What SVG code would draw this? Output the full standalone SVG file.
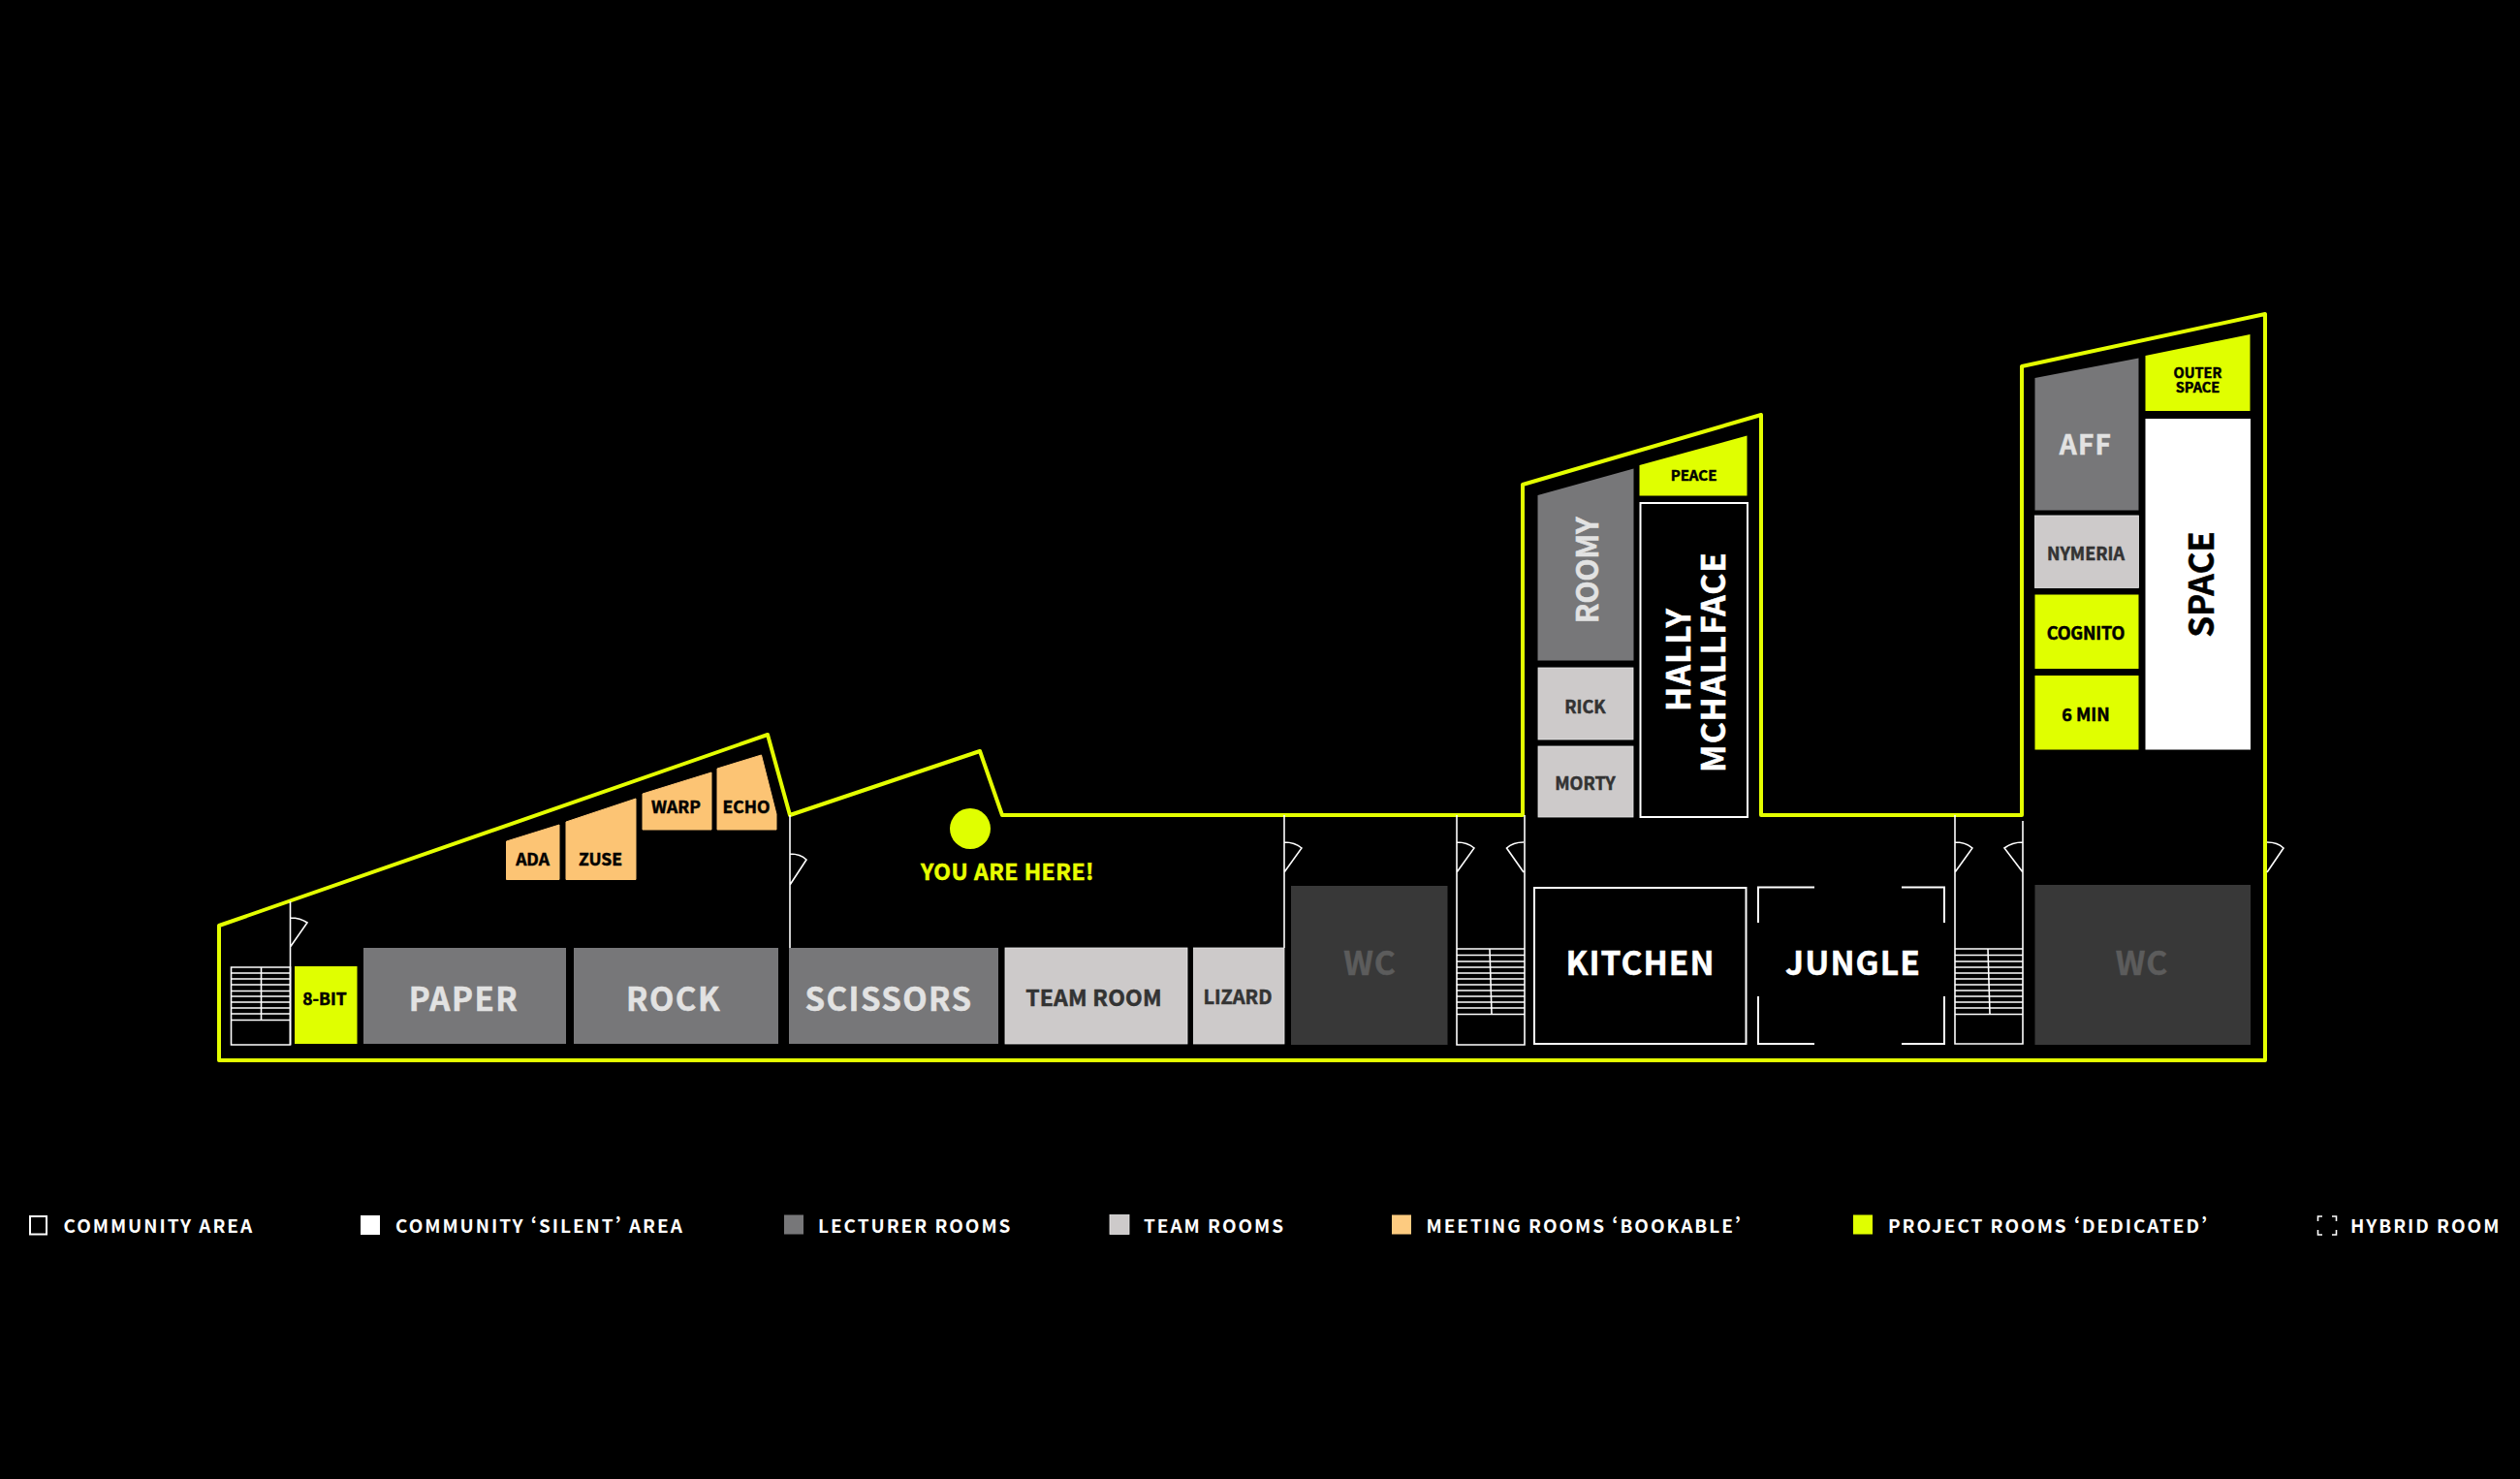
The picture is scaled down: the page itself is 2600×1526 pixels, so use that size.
<svg xmlns="http://www.w3.org/2000/svg" width="2600" height="1526" viewBox="0 0 2600 1526">
<style>
text{font-family:"Noto Sans CJK SC","Noto Sans",sans-serif;font-weight:700;text-anchor:middle;font-feature-settings:"pwid";stroke-width:.5}
.lec{fill:#777779}.team{fill:#cdcaca;stroke:#e6e6e6;stroke-width:.8}.meet{fill:#fcc474;stroke:#fcc474;stroke-width:1;stroke-linejoin:round}.proj{fill:#e0ff00}.wc{fill:#383838}
.com{fill:#000;stroke:#fff;stroke-width:2}.sil{fill:#fff}
.ln{fill:none;stroke:#fff;stroke-width:1.6}.out{fill:none;stroke:#e4ff00;stroke-width:4;stroke-linejoin:round}
.tl{fill:#e2e2e2;stroke:#e2e2e2}.td{fill:#333;stroke:#333}.tb{fill:#000;stroke:#000}.tw{fill:#fff;stroke:#fff}.tg{fill:#5c5c5c;stroke:#5c5c5c}
.lg{fill:#fff;font-size:19px;letter-spacing:1.95px;text-anchor:start;stroke-width:0}
</style>
<rect width="2600" height="1526" fill="#000"/>
<g id="outline"><path class="out" d="M226 955L792 758L815 841L1011 775L1034 841H1571V500L1817 428V841H2086V378L2337 324V1094H226Z"/></g>
<g id="connectors">
<path class="ln" d="M299.500 930V1078M299.500 947Q310 947 317 952L299.500 977"/>
<path class="ln" d="M815 841V978M815 881Q826 881 832 887L815 913"/>
<path class="ln" d="M1325 841V978M1325 869Q1336 869 1343 875L1325 900"/>
<path class="ln" d="M1503 841V1078H1573V841M1503 869Q1514 869 1521 875L1503 900M1572 869Q1561 869 1554.500 875L1572 900"/>
<path class="ln" d="M2017 841V1077H2087V847M2017 869Q2028 869 2035 875L2017 900M2087 869Q2076 869 2068 875L2087 900"/>
<path class="ln" d="M2339 869Q2350 869 2356 875L2339 900"/>
</g>
<g id="stairs-1"><path class="ln" d="M238.500 998H299.500V1078H238.500ZM269.500 998V1052M238.500 1004H299.500M238.500 1010H299.500M238.500 1016H299.500M238.500 1022.500H299.500M238.500 1028H299.500M238.500 1034H299.500M238.500 1040H299.500M238.500 1046H299.500M238.500 1052.500H299.500"/></g>
<g id="stairs-2"><path class="ln" d="M1503 979H1573M1537 979L1539 1046M1503 985.500H1573M1503 992H1573M1503 998H1573M1503 1004H1573M1503 1010H1573M1503 1016H1573M1503 1022H1573M1503 1028H1573M1503 1034H1573M1503 1040H1573M1503 1046.500H1573"/></g>
<g id="stairs-3"><path class="ln" d="M2017 979H2087M2051 979L2053 1046M2017 985.500H2087M2017 992H2087M2017 998H2087M2017 1004H2087M2017 1010H2087M2017 1016H2087M2017 1022H2087M2017 1028H2087M2017 1034H2087M2017 1040H2087M2017 1046.500H2087"/></g>
<g id="you-are-here"><circle cx="1001" cy="855" r="21" fill="#e0ff00"/><text x="1039.500" y="908" font-size="23" letter-spacing=".5" fill="#e8ff00" stroke="#e8ff00">YOU ARE HERE!</text></g>
<g id="ada"><path class="meet" d="M522.500 868L577 851V907.500H522.500Z"/><text class="tb" x="549.500" y="892.500" font-size="17.500">ADA</text></g>
<g id="zuse"><path class="meet" d="M584 848L656 824V907.500H584Z"/><text class="tb" x="619.500" y="892.500" font-size="17.500">ZUSE</text></g>
<g id="warp"><path class="meet" d="M663 819L734 797V856H663Z"/><text class="tb" x="697.500" y="839" font-size="17.500">WARP</text></g>
<g id="echo"><path class="meet" d="M740 793L785.500 779L801 840V856H740Z"/><text class="tb" x="770" y="839" font-size="17.500">ECHO</text></g>
<g id="eight-bit"><rect class="proj" x="304" y="997" width="64.500" height="80"/><text class="tb" x="335" y="1036.500" font-size="17.500">8-BIT</text></g>
<g id="paper"><rect class="lec" x="375" y="978" width="209" height="99"/><text class="tl" x="478.500" y="1042.500" font-size="33" letter-spacing="1.500">PAPER</text></g>
<g id="rock"><rect class="lec" x="592" y="978" width="211" height="99"/><text class="tl" x="695" y="1042.500" font-size="33" letter-spacing="1.500">ROCK</text></g>
<g id="scissors"><rect class="lec" x="814" y="978" width="216" height="99"/><text class="tl" x="917" y="1042.500" font-size="33" letter-spacing="1.400">SCISSORS</text></g>
<g id="team-room"><rect class="team" x="1037" y="978" width="188" height="99"/><text class="td" x="1128.500" y="1038" font-size="23" letter-spacing=".2">TEAM ROOM</text></g>
<g id="lizard"><rect class="team" x="1231.500" y="978" width="93.500" height="99"/><text class="td" x="1277" y="1036" font-size="20">LIZARD</text></g>
<g id="wc-1"><rect class="wc" x="1332" y="914" width="161.500" height="164"/><text class="tg" x="1413.500" y="1006" font-size="33.500" letter-spacing="1">WC</text></g>
<g id="kitchen"><rect class="com" x="1583" y="916" width="218.500" height="161"/><text class="tw" x="1692.500" y="1006" font-size="33.500" letter-spacing="1">KITCHEN</text></g>
<g id="jungle"><path class="ln" style="stroke-width:2" d="M1814 952V915.500H1872M1962 915.500H2006V952M1814 1028V1077H1872M1962 1077H2006V1028"/><text class="tw" x="1912" y="1006" font-size="33.500" letter-spacing="1.100">JUNGLE</text></g>
<g id="wc-2"><rect class="wc" x="2099.500" y="913" width="222.500" height="165"/><text class="tg" x="2210" y="1006" font-size="33.500" letter-spacing="1">WC</text></g>
<g id="roomy"><path class="lec" d="M1586.500 511L1685.500 483.500V681.500H1586.500Z"/><text class="tl" transform="translate(1648.500 588.500) rotate(-90)" font-size="30.500" letter-spacing="-.4">ROOMY</text></g>
<g id="peace"><path class="proj" d="M1691.500 480L1802.500 449.500V511.500H1691.500Z"/><text class="tb" x="1747.500" y="496" font-size="15">PEACE</text></g>
<g id="hally"><rect class="com" x="1692.500" y="519" width="110.500" height="324"/><text class="tw" transform="translate(1744 680.500) rotate(-90)" font-size="33.500" letter-spacing="1">HALLY</text><text class="tw" transform="translate(1779.500 683) rotate(-90)" font-size="33.500" letter-spacing="1">MCHALLFACE</text></g>
<g id="rick"><rect class="team" x="1587" y="689" width="98" height="74"/><text class="td" x="1635.500" y="735.500" font-size="18">RICK</text></g>
<g id="morty"><rect class="team" x="1587" y="770" width="98" height="73"/><text class="td" x="1635.500" y="814.500" font-size="18">MORTY</text></g>
<g id="aff"><path class="lec" d="M2099.500 390L2206.500 369.500V526.500H2099.500Z"/><text class="tl" x="2152" y="468.500" font-size="28" letter-spacing="1.300">AFF</text></g>
<g id="outer-space"><path class="proj" d="M2213.500 367L2321.500 345V424H2213.500Z"/><text class="tb" x="2267.500" y="390" font-size="14.500">OUTER</text><text class="tb" x="2267.500" y="404.500" font-size="14.500">SPACE</text></g>
<g id="space"><rect class="sil" x="2213.500" y="432" width="108.500" height="341.500"/><text class="tb" transform="translate(2283.500 603) rotate(-90)" font-size="35">SPACE</text></g>
<g id="nymeria"><rect class="team" x="2099.500" y="532" width="107" height="74.500"/><text class="td" x="2152" y="577.500" font-size="18">NYMERIA</text></g>
<g id="cognito"><rect class="proj" x="2099.500" y="613.500" width="107" height="76.500"/><text class="tb" x="2152" y="660" font-size="18" letter-spacing="-.2">COGNITO</text></g>
<g id="six-min"><rect class="proj" x="2099.500" y="697" width="107" height="76.500"/><text class="tb" x="2152" y="743.500" font-size="18">6 MIN</text></g>
<g id="legend">
<rect class="com" x="31" y="1255" width="17" height="18.500"/><text class="lg" x="65.500" y="1271.500">COMMUNITY AREA</text>
<rect class="sil" x="372" y="1254" width="20" height="20"/><text class="lg" x="408" y="1271.500">COMMUNITY ‘SILENT’ AREA</text>
<rect class="lec" x="809" y="1253.500" width="20" height="20"/><text class="lg" x="844" y="1271.500">LECTURER ROOMS</text>
<rect class="team" x="1145" y="1253.500" width="20" height="20"/><text class="lg" x="1180" y="1271.500">TEAM ROOMS</text>
<rect fill="#fdcb80" x="1436" y="1253.500" width="20" height="20"/><text class="lg" x="1471.500" y="1271.500">MEETING ROOMS ‘BOOKABLE’</text>
<rect class="proj" x="1912" y="1253.500" width="20" height="20"/><text class="lg" x="1948" y="1271.500">PROJECT ROOMS ‘DEDICATED’</text>
<path class="ln" d="M2396 1255H2391.500V1260M2406 1255H2410.500V1260M2391.500 1269V1274H2396M2410.500 1269V1274H2406"/><text class="lg" x="2425" y="1271.500">HYBRID ROOM</text>
</g>
</svg>
